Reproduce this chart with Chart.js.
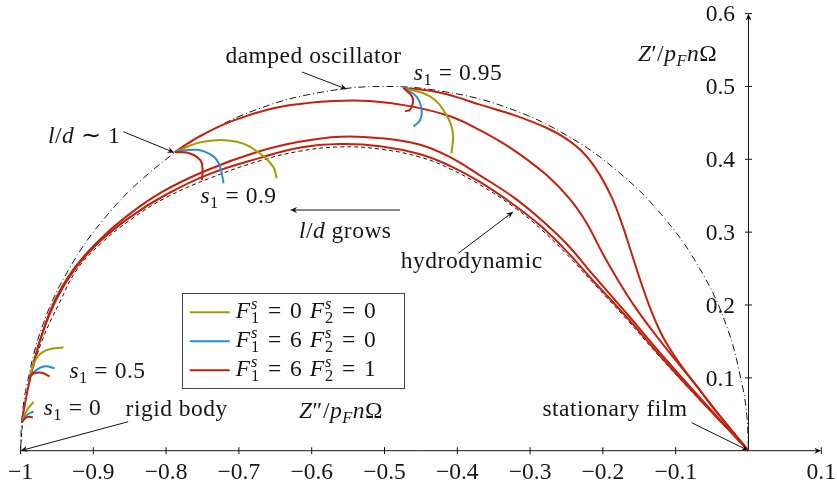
<!DOCTYPE html>
<html>
<head>
<meta charset="utf-8">
<script src="https://cdn.jsdelivr.net/npm/chart.js@4.4.1/dist/chart.umd.min.js"></script>
<style>
  html, body { margin: 0; padding: 0; background: #fff; }
  canvas { display: block; }
</style>
</head>
<body>
<canvas id="c" width="837" height="483"></canvas>
<script>
// ---------------- data (Z'' , Z') pairs ----------------
const dampedOscillator = [
  [-1, 0], [-0.998, 0.044], [-0.992, 0.087], [-0.970, 0.171], [-0.933, 0.250],
  [-0.883, 0.321], [-0.821, 0.383], [-0.750, 0.433], [-0.671, 0.470], [-0.587, 0.492],
  [-0.500, 0.500], [-0.413, 0.492], [-0.329, 0.470], [-0.250, 0.433], [-0.179, 0.383],
  [-0.117, 0.321], [-0.067, 0.250], [-0.030, 0.171], [-0.008, 0.087], [-0.002, 0.044], [0, 0]
];
const hydrodynamic = [
  [-1, 0], [-0.998, 0.028], [-0.994, 0.063], [-0.986, 0.100], [-0.970, 0.152],
  [-0.946, 0.204], [-0.923, 0.248], [-0.890, 0.284], [-0.849, 0.317], [-0.801, 0.347],
  [-0.740, 0.374], [-0.671, 0.398], [-0.617, 0.411], [-0.561, 0.417], [-0.506, 0.414],
  [-0.451, 0.403], [-0.410, 0.387], [-0.369, 0.365], [-0.323, 0.335], [-0.286, 0.305],
  [-0.249, 0.269], [-0.214, 0.231], [-0.167, 0.180], [-0.122, 0.129], [-0.076, 0.079],
  [-0.039, 0.040], [0, 0]
];
// F1s = 6, F2s = 1 curves, one per starting value of s1
const curveS0 = [
  [-0.998, 0.041], [-0.993, 0.069], [-0.986, 0.103], [-0.972, 0.155], [-0.951, 0.207],
  [-0.924, 0.251], [-0.890, 0.288], [-0.849, 0.321], [-0.801, 0.351], [-0.740, 0.380],
  [-0.671, 0.402], [-0.617, 0.416], [-0.561, 0.421], [-0.506, 0.418], [-0.451, 0.407],
  [-0.410, 0.391], [-0.369, 0.369], [-0.323, 0.338], [-0.286, 0.309], [-0.249, 0.273],
  [-0.214, 0.234], [-0.167, 0.183], [-0.122, 0.131], [-0.076, 0.080], [-0.039, 0.041], [0, 0]
];
const curveS05 = [
  [-0.987, 0.101], [-0.973, 0.152], [-0.954, 0.204], [-0.928, 0.248], [-0.895, 0.286],
  [-0.854, 0.322], [-0.806, 0.355], [-0.744, 0.385], [-0.675, 0.410], [-0.617, 0.424],
  [-0.561, 0.431], [-0.506, 0.429], [-0.451, 0.420], [-0.410, 0.403], [-0.369, 0.378],
  [-0.323, 0.348], [-0.286, 0.318], [-0.249, 0.283], [-0.214, 0.242], [-0.167, 0.188],
  [-0.122, 0.135], [-0.076, 0.083], [-0.039, 0.042], [0, 0]
];
const curveS09 = [
  [-0.788, 0.410], [-0.753, 0.432], [-0.708, 0.453], [-0.657, 0.469], [-0.616, 0.476],
  [-0.571, 0.480], [-0.520, 0.480], [-0.465, 0.473], [-0.410, 0.459], [-0.369, 0.440],
  [-0.323, 0.413], [-0.277, 0.378], [-0.245, 0.345], [-0.222, 0.312], [-0.200, 0.270],
  [-0.178, 0.232], [-0.155, 0.196], [-0.130, 0.162], [-0.104, 0.129], [-0.076, 0.095],
  [-0.040, 0.048], [0, 0]
];
const curveS095 = [
  [-0.474, 0.498], [-0.437, 0.494], [-0.403, 0.486], [-0.369, 0.475], [-0.323, 0.461],
  [-0.277, 0.443], [-0.250, 0.428], [-0.225, 0.407], [-0.205, 0.380], [-0.188, 0.348],
  [-0.174, 0.312], [-0.161, 0.272], [-0.148, 0.232], [-0.134, 0.193], [-0.118, 0.157],
  [-0.099, 0.126], [-0.077, 0.096], [-0.040, 0.049], [0, 0]
];
// short branches leaving each starting point
const branchOlive0 = [[-0.998, 0.040], [-0.991, 0.056], [-0.982, 0.067]];
const branchBlue0  = [[-0.998, 0.040], [-0.991, 0.049], [-0.982, 0.054]];
const branchRed0   = [[-0.998, 0.040], [-0.991, 0.046], [-0.983, 0.046]];
const branchOlive05 = [[-0.988, 0.101], [-0.978, 0.127], [-0.964, 0.138], [-0.941, 0.142]];
const branchBlue05  = [[-0.988, 0.101], [-0.978, 0.111], [-0.966, 0.116], [-0.953, 0.113]];
const branchRed05   = [[-0.988, 0.101], [-0.982, 0.106], [-0.971, 0.107], [-0.960, 0.102]];
const branchOlive09 = [[-0.788, 0.410], [-0.749, 0.424], [-0.703, 0.424], [-0.671, 0.408], [-0.653, 0.390], [-0.648, 0.374]];
const branchBlue09  = [[-0.788, 0.410], [-0.758, 0.413], [-0.735, 0.404], [-0.726, 0.390], [-0.721, 0.367]];
const branchRed09   = [[-0.788, 0.410], [-0.767, 0.408], [-0.753, 0.399], [-0.750, 0.388], [-0.751, 0.371]];
const branchOlive095 = [[-0.474, 0.498], [-0.437, 0.486], [-0.415, 0.461], [-0.406, 0.436], [-0.408, 0.408]];
const branchBlue095  = [[-0.474, 0.498], [-0.456, 0.486], [-0.449, 0.468], [-0.451, 0.454], [-0.460, 0.445]];
const branchRed095   = [[-0.474, 0.498], [-0.462, 0.486], [-0.461, 0.477], [-0.465, 0.468], [-0.472, 0.466]];

const xTickValues = [-1, -0.9, -0.8, -0.7, -0.6, -0.5, -0.4, -0.3, -0.2, -0.1, 0.1];
const xTickLabels = ['\u22121', '\u22120.9', '\u22120.8', '\u22120.7', '\u22120.6', '\u22120.5', '\u22120.4', '\u22120.3', '\u22120.2', '\u22120.1', '0.1'];
const yTickValues = [0.1, 0.2, 0.3, 0.4, 0.5, 0.6];
const yTickLabels = ['0.1', '0.2', '0.3', '0.4', '0.5', '0.6'];

// ---------------- styling ----------------
const RED = '#c4200c', BLUE = '#2b8bd3', OLIVE = '#a39b05', INK = '#151515';
const FS = 23.5;
const FAM = '"Liberation Serif", "Times New Roman", serif';

const pts = a => a.map(([x, y]) => ({ x, y }));
function line(data, color, width, dash, order) {
  return {
    data: pts(data), showLine: true, borderColor: color, backgroundColor: color,
    borderWidth: width, borderDash: dash || [], pointRadius: 0, pointHoverRadius: 0,
    tension: 0.4, fill: false, clip: false, order
  };
}

const datasets = [
  line(dampedOscillator, INK, 1, [7, 3, 1, 3], 10),
  line(hydrodynamic, INK, 1, [4, 3], 9),
  line(curveS0, RED, 2, null, 5),
  line(curveS05, RED, 2, null, 5),
  line(curveS09, RED, 2, null, 5),
  line(curveS095, RED, 2, null, 5),
  line(branchOlive0, OLIVE, 2, null, 3), line(branchBlue0, BLUE, 2, null, 2), line(branchRed0, RED, 2, null, 1),
  line(branchOlive05, OLIVE, 2, null, 3), line(branchBlue05, BLUE, 2, null, 2), line(branchRed05, RED, 2, null, 1),
  line(branchOlive09, OLIVE, 2, null, 3), line(branchBlue09, BLUE, 2, null, 2), line(branchRed09, RED, 2, null, 1),
  line(branchOlive095, OLIVE, 2, null, 3), line(branchBlue095, BLUE, 2, null, 2), line(branchRed095, RED, 2, null, 1)
];

// ---------------- text helpers ----------------
function setFont(ctx, size, italic) {
  ctx.font = (italic ? 'italic ' : '') + size.toFixed(2) + 'px ' + FAM;
}
const I = t => ({ t, i: 1 });
const R = t => ({ t });
const SUB = t => ({ t, s: 0.7, dy: 0.2 });
const SUBI = t => ({ t, s: 0.7, dy: 0.2, i: 1 });
const SUPK = t => ({ t, s: 0.7, dy: -0.38, i: 1, k: 1 });
const REL = (t, p) => ({ t, pad: p || 0.28 });

function rich(ctx, parts, x, y, align) {
  let cx = 0, hold = 0;
  const items = [];
  for (const p of parts) {
    const sz = FS * (p.s || 1);
    setFont(ctx, sz, p.i);
    const w = ctx.measureText(p.t).width;
    const pad = (p.pad || 0) * FS;
    cx += pad;
    items.push({ p, x: cx, sz });
    if (p.k) { hold = Math.max(hold, w); }
    else { cx += Math.max(w, hold); hold = 0; }
    cx += pad;
  }
  const x0 = align === 'center' ? x - cx / 2 : align === 'right' ? x - cx : x;
  ctx.textAlign = 'left';
  ctx.textBaseline = 'alphabetic';
  for (const it of items) {
    setFont(ctx, it.sz, it.p.i);
    ctx.fillText(it.p.t, x0 + it.x, y + (it.p.dy || 0) * FS);
  }
}

function arrowHead(ctx, x1, y1, x2, y2, len, half) {
  const a = Math.atan2(y2 - y1, x2 - x1);
  const c = Math.cos(a), s = Math.sin(a);
  const bx = x2 - c * len, by = y2 - s * len;
  const nx = x2 - c * len * 0.7, ny = y2 - s * len * 0.7;
  ctx.beginPath();
  ctx.moveTo(x2, y2);
  ctx.lineTo(bx - s * half, by + c * half);
  ctx.lineTo(nx, ny);
  ctx.lineTo(bx + s * half, by - c * half);
  ctx.closePath();
  ctx.fill();
}
function arrow(ctx, x1, y1, x2, y2) {
  const a = Math.atan2(y2 - y1, x2 - x1);
  ctx.beginPath();
  ctx.moveTo(x1, y1);
  ctx.lineTo(x2 - Math.cos(a) * 4, y2 - Math.sin(a) * 4);
  ctx.stroke();
  arrowHead(ctx, x1, y1, x2, y2, 7, 3);
}

// ---------------- annotation layer ----------------
const decor = {
  id: 'decor',
  beforeDatasetsDraw(chart) {
    const { ctx, scales: { x: xs, y: ys } } = chart;
    const X = v => xs.getPixelForValue(v), Y = v => ys.getPixelForValue(v);
    ctx.save();
    ctx.strokeStyle = INK; ctx.fillStyle = INK; ctx.lineWidth = 1;
    // horizontal axis
    ctx.beginPath(); ctx.moveTo(X(-1), Y(0)); ctx.lineTo(X(0.1) - 3, Y(0)); ctx.stroke();
    arrowHead(ctx, X(-1), Y(0), X(0.1), Y(0), 7, 3);
    for (const v of xTickValues) {
      ctx.beginPath(); ctx.moveTo(X(v), Y(0) - 3.5); ctx.lineTo(X(v), Y(0) + 3.5); ctx.stroke();
    }
    // vertical axis
    ctx.beginPath(); ctx.moveTo(X(0), Y(0)); ctx.lineTo(X(0), Y(0.6) + 3); ctx.stroke();
    arrowHead(ctx, X(0), Y(0), X(0), Y(0.6), 7, 3);
    for (const v of yTickValues) {
      ctx.beginPath(); ctx.moveTo(X(0) - 3.5, Y(v)); ctx.lineTo(X(0) + 3.5, Y(v)); ctx.stroke();
    }
    // tick labels
    setFont(ctx, FS, false);
    ctx.textBaseline = 'alphabetic';
    ctx.textAlign = 'center';
    xTickValues.forEach((v, k) => ctx.fillText(xTickLabels[k], X(v), Y(0) + 28));
    ctx.textAlign = 'right';
    yTickValues.forEach((v, k) => ctx.fillText(yTickLabels[k], X(0) - 13.5, Y(v) + 7.8));
    ctx.restore();
  },
  afterDatasetsDraw(chart) {
    const { ctx, scales: { x: xs, y: ys } } = chart;
    const X = v => xs.getPixelForValue(v), Y = v => ys.getPixelForValue(v);
    ctx.save();
    ctx.strokeStyle = INK; ctx.fillStyle = INK; ctx.lineWidth = 1;
    try { ctx.letterSpacing = '0.5px'; } catch (e) {}

    // annotation arrows
    arrow(ctx, X(-0.6133), Y(0.5198), X(-0.5515), Y(0.4961));   // damped oscillator
    arrow(ctx, X(-0.8588), Y(0.4379), X(-0.7885), Y(0.4091));   // l/d ~ 1
    arrow(ctx, X(-0.4787), Y(0.3304), X(-0.6298), Y(0.3304));   // l/d grows
    arrow(ctx, X(-0.3986), Y(0.2710), X(-0.3231), Y(0.3281));   // hydrodynamic
    arrow(ctx, X(-0.0780), Y(0.0384), X(0), Y(0));              // stationary film
    arrow(ctx, X(-0.8520), Y(0.0398), X(-1), Y(0));             // rigid body

    // labels
    rich(ctx, [R('damped oscillator')], X(-0.5975), Y(0.532), 'center');
    rich(ctx, [I('s'), SUB('1'), REL('='), R('0.95')], X(-0.399), Y(0.509), 'center');
    rich(ctx, [I('l'), R('/'), I('d'), REL('\u223C'), R('1')], X(-0.9127), Y(0.4224), 'center');
    rich(ctx, [I('s'), SUB('1'), REL('='), R('0.9')], X(-0.7005), Y(0.340), 'center');
    rich(ctx, [I('l'), R('/'), I('d'), R(' grows')], X(-0.554), Y(0.292), 'center');
    rich(ctx, [R('hydrodynamic')], X(-0.3802), Y(0.2508), 'center');
    rich(ctx, [R('stationary film')], X(-0.1834), Y(0.0476), 'center');
    rich(ctx, [I('s'), SUB('1'), REL('='), R('0.5')], X(-0.8805), Y(0.0998), 'center');
    rich(ctx, [I('s'), SUB('1'), REL('='), R('0')], X(-0.9286), Y(0.049), 'center');
    rich(ctx, [R('rigid body')], X(-0.7854), Y(0.0476), 'center');
    rich(ctx, [I('Z'), R('\u2033'), R('/'), I('p'), SUBI('F'), I('n'), R('\u03A9')], X(-0.5598), Y(0.0449), 'center');
    rich(ctx, [I('Z'), R('\u2032'), R('/'), I('p'), SUBI('F'), I('n'), R('\u03A9')], X(-0.0975), Y(0.535), 'center');

    // legend box
    const L = X(-0.7785), T = Y(0.2169), Rt = X(-0.4732), B = Y(0.0861);
    ctx.fillStyle = '#fff';
    ctx.fillRect(L, T, Rt - L, B - T);
    ctx.strokeStyle = '#444';
    ctx.strokeRect(Math.round(L) + 0.5, Math.round(T) + 0.5, Math.round(Rt - L), Math.round(B - T));
    const entries = [
      { c: OLIVE, a: '0', b: '0' },
      { c: BLUE,  a: '6', b: '0' },
      { c: RED,   a: '6', b: '1' }
    ];
    try { ctx.letterSpacing = '1px'; } catch (e) {}
    entries.forEach((e, k) => {
      const ly = T + 19.6 + 29 * k;
      ctx.strokeStyle = e.c; ctx.lineWidth = 2;
      ctx.beginPath(); ctx.moveTo(L + 8, ly); ctx.lineTo(L + 48, ly); ctx.stroke();
      ctx.fillStyle = INK;
      rich(ctx, [I('F'), SUPK('s'), SUB('1'), REL('=', 0.33), R(e.a + ' '), I('F'), SUPK('s'), SUB('2'), REL('=', 0.33), R(e.b)],
           L + 54, T + 25.5 + 29 * k, 'left');
    });
    ctx.restore();
  }
};

new Chart(document.getElementById('c').getContext('2d'), {
  type: 'scatter',
  data: { datasets },
  options: {
    responsive: false,
    animation: false,
    devicePixelRatio: 1,
    events: [],
    layout: { padding: { left: 20.5, right: 15.7, top: 13.6, bottom: 32.3 } },
    plugins: { legend: { display: false }, tooltip: { enabled: false } },
    scales: {
      x: { type: 'linear', min: -1, max: 0.1, display: false },
      y: { type: 'linear', min: 0, max: 0.6, display: false }
    }
  },
  plugins: [decor]
});
</script>
</body>
</html>
